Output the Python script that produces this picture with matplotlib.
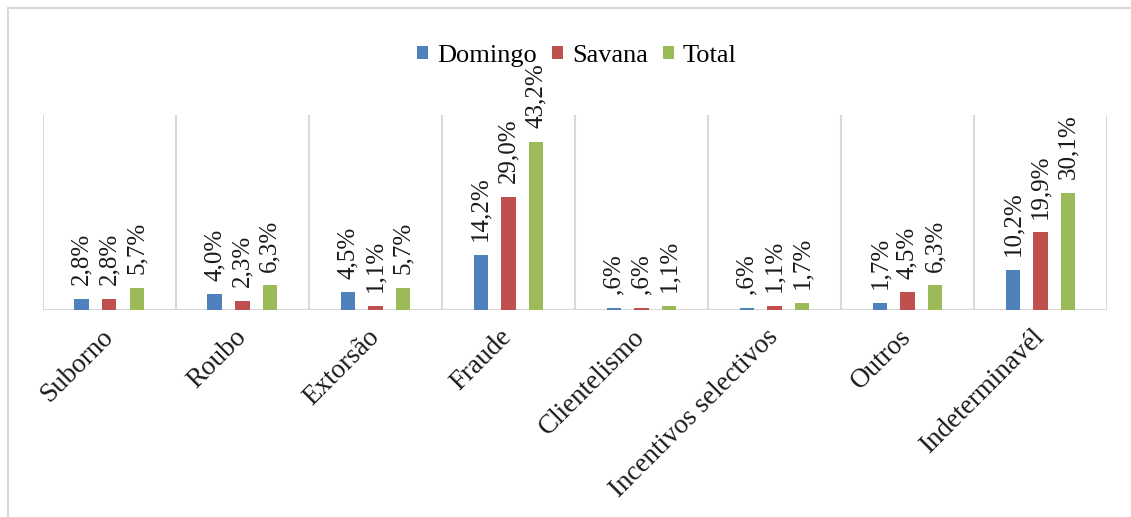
import matplotlib
matplotlib.use("Agg")
import matplotlib.pyplot as plt
from matplotlib.patches import Rectangle
import numpy as np

categories = ["Suborno", "Roubo", "Extorsão", "Fraude", "Clientelismo",
              "Incentivos selectivos", "Outros", "Indeterminavél"]
series_names = ["Domingo", "Savana", "Total"]
domingo = [2.8, 4.0, 4.5, 14.2, 0.6, 0.6, 1.7, 10.2]
savana = [2.8, 2.3, 1.1, 29.0, 0.6, 1.1, 4.5, 19.9]
total = [5.7, 6.3, 5.7, 43.2, 1.1, 1.7, 6.3, 30.1]
colors = ["#4F81BD", "#C0504D", "#9BBB59"]

plt.rcParams['font.family'] = ['Liberation Serif', 'DejaVu Serif']

W, H = 1131, 517
fig = plt.figure(figsize=(W / 100, H / 100), dpi=100)
fig.patch.set_facecolor("white")

# outer chart border
fig.add_artist(Rectangle((8 / W, -0.05), 1.1, 1 - 8 / H + 0.05,
                         transform=fig.transFigure, fill=False,
                         edgecolor="#d9d9d9", linewidth=1.5))

left, right = 42.7 / W, 1107 / W
bottom, top = (H - 310) / H, (H - 115) / H
ax = fig.add_axes([left, bottom, right - left, top - bottom])

x = np.arange(len(categories))
bw = 0.109
spacing = 0.207
data = [domingo, savana, total]


def fmt(v):
    s = f"{v:.1f}".replace(".", ",")
    if s.startswith("0"):
        s = s[1:]
    return s + "%"


for i, (vals, c, name) in enumerate(zip(data, colors, series_names)):
    pos = x + (i - 1) * spacing
    ax.bar(pos, vals, width=bw, color=c, label=name, zorder=3)
    for px, v in zip(pos, vals):
        ax.annotate(fmt(v), (px, v), xytext=(0, 10), textcoords="offset points",
                    rotation=90, ha="center", va="bottom", fontsize=18,
                    color="#1a1a1a", annotation_clip=False, clip_on=False)

ax.set_xlim(-0.5, len(categories) - 0.5)
ax.set_ylim(0, 50)
for b in np.arange(-0.5, len(categories), 1.0):
    ax.axvline(b, color="#d9d9d9", linewidth=1.5, zorder=1)
ax.axhline(0, color="#d9d9d9", linewidth=1.5, zorder=2)

for s in ax.spines.values():
    s.set_visible(False)
ax.set_yticks([])
ax.set_xticks(x)
ax.set_xticklabels(categories, rotation=45, ha="right", va="center",
                   rotation_mode="anchor", fontsize=19.5, color="#1a1a1a")
ax.tick_params(axis="x", length=0, pad=17)

fig.legend(loc="center", bbox_to_anchor=(577 / W, 1 - 56 / H), ncol=3,
           frameon=False, fontsize=19, handlelength=0.42, handleheight=0.42,
           handletextpad=0.35, columnspacing=0.55, borderpad=0)

fig.savefig("out.png", dpi=100, facecolor="white")
